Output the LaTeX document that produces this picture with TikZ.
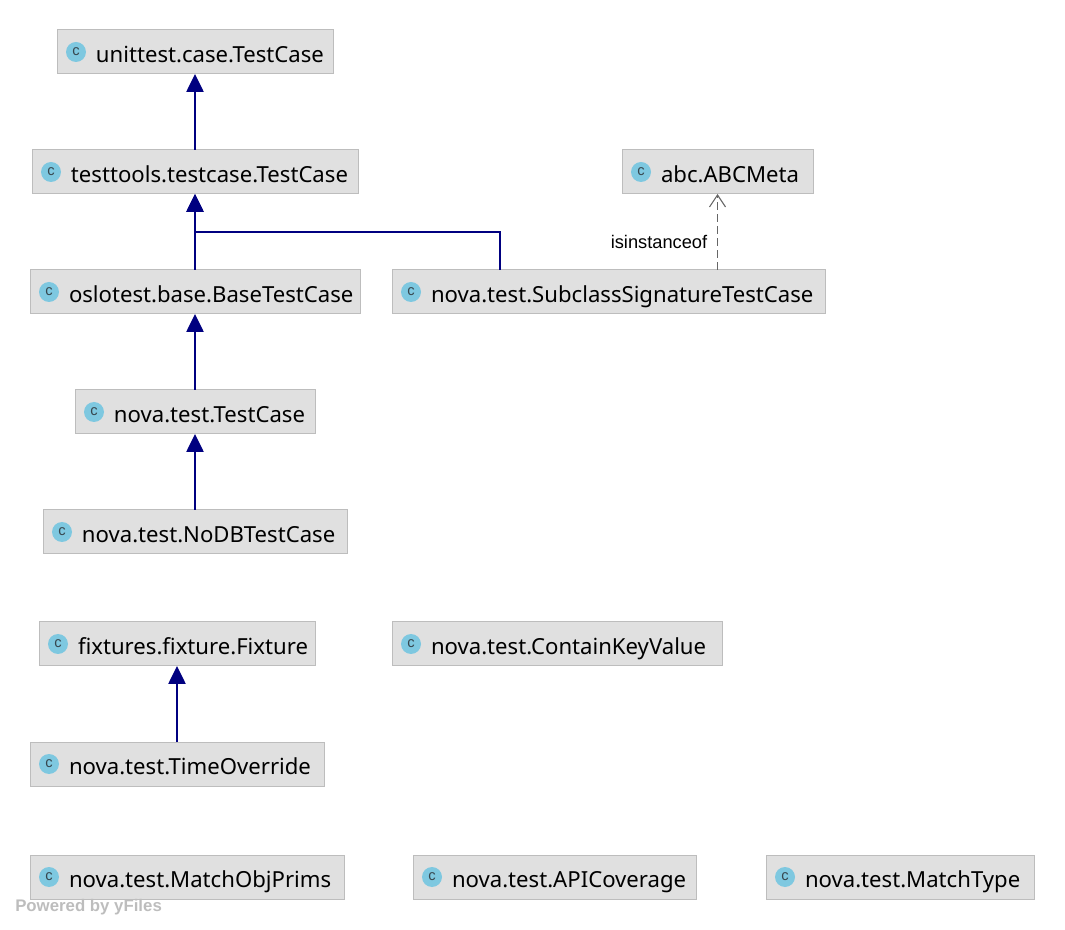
\documentclass[tikz,border=0pt]{standalone}
\usepackage{fontspec}
\setmainfont{Noto Sans}
\newfontfamily\labelfont{Liberation Sans}
\usetikzlibrary{arrows.meta, positioning}
\definecolor{boxfill}{HTML}{E0E0E0}
\definecolor{boxline}{HTML}{BDBDBD}
\definecolor{iconfill}{HTML}{7EC8E0}
\definecolor{iconc}{HTML}{37474F}
\definecolor{inheritline}{HTML}{000080}
\definecolor{dashline}{HTML}{666666}
\tikzset{
  classbox/.style={draw=boxline, fill=boxfill, line width=0.75pt, anchor=west, outer sep=0pt,
    minimum height=33pt, inner xsep=1.5pt, inner ysep=0pt, align=left, font=\fontsize{16.6pt}{20pt}\selectfont,
    minimum width=#1*0.75pt, text width=(#1-4)*0.75pt, text height=16pt, text depth=0pt,
    execute at begin node={\hyphenchar\font=-1 \hspace*{27.75pt}},
    append after command={node[classicon] at ([xshift=14.25pt]\tikzlastnode.west) {c}}},
  classicon/.style={circle, draw=none, fill=iconfill, text=iconc, inner sep=0pt, minimum size=15pt, minimum width=15pt,
    text width=, align=center, text height=5.5pt, text depth=0pt, anchor=center, execute at begin node={},
    font=\fontsize{11pt}{11pt}\selectfont\labelfont},
  inherit/.style={draw=inheritline, line width=1.1pt, -{Triangle[length=13.5pt, width=13pt]}},
  depends/.style={draw=dashline, line width=1.2pt, dash pattern=on 6pt off 3pt, -{Straight Barb[length=9pt, width=12pt, line width=0.8pt]}}
}
\begin{document}
\begin{tikzpicture}[x=0.75pt, y=-0.75pt]
        \useasboundingbox (0,0) rectangle (1065,930);
        % Classes
        \node[classbox=276] (unittest) at (57,52) {unittest.case.TestCase};
        \node[classbox=326] (testtools) at (32,172) {testtools.testcase.TestCase};
        \node[classbox=330] (oslotest) at (30,292) {oslotest.base.BaseTestCase};
        \node[classbox=240] (novatest) at (75,412) {nova.test.TestCase};
        \node[classbox=304] (nodb) at (43,532) {nova.test.NoDBTestCase};
        \node[classbox=191] (abcmeta) at (622,172) {abc.ABCMeta};
        \node[classbox=433] (subclass) at (392,292) {nova.test.SubclassSignatureTestCase};
        \node[classbox=276] (fixture) at (39,644) {fixtures.fixture.Fixture};
        \node[classbox=330] (containkey) at (392,644) {nova.test.ContainKeyValue};
        \node[classbox=294] (timeoverride) at (30,764) {nova.test.TimeOverride};
        \node[classbox=314] (matchobj) at (30,877) {nova.test.MatchObjPrims};
        \node[classbox=283] (apicoverage) at (413,877) {nova.test.APICoverage};
        \node[classbox=268] (matchtype) at (766,877) {nova.test.MatchType};

        % Inheritance arrows
        \draw[inherit] (testtools) -- (unittest);
        \draw[inherit] (oslotest) -- (testtools);
        \draw[inherit] (novatest) -- (oslotest);
        \draw[inherit] (nodb) -- (novatest);
        \draw[inherit] (timeoverride) -- (fixture);

        % Side branch
        \coordinate (branchtop) at (500,232);
        \draw[inherit] (subclass.north -| branchtop) -- (branchtop) -- (branchtop -| testtools.south) -- (testtools.south);

        % Dashed dependency
        \draw[depends] (subclass.north -| abcmeta.south) -- (abcmeta.south);
        \node[font=\fontsize{13.7pt}{15pt}\selectfont\labelfont, inner sep=0pt] (isinstance) at (659,242) {isinstanceof};

        % Watermark
        \node[font=\fontsize{12.6pt}{14pt}\selectfont\labelfont\bfseries, text=boxline, inner sep=0pt, anchor=west] (poweredby) at (15,907) {Powered by yFiles};
    \end{tikzpicture}
\end{document}
